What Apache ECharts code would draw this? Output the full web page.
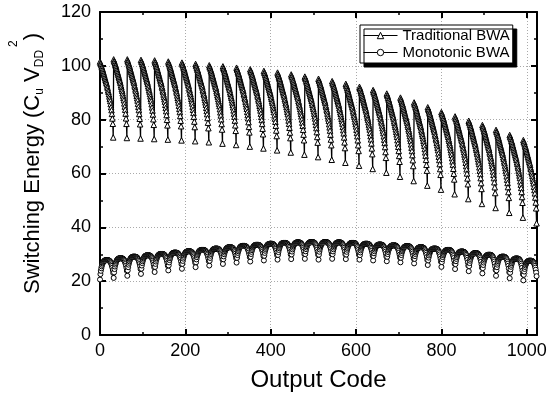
<!DOCTYPE html>
<html>
<head>
<meta charset="utf-8">
<script src="https://cdn.jsdelivr.net/npm/echarts@6/dist/echarts.min.js"></script>
<style>
html,body{margin:0;padding:0;background:#fff;}
#c{width:558px;height:402px;}
</style>
</head>
<body>
<div id="c"></div>
<script>
// ---- data ----
// Traditional BWA: 32 teeth of 32 codes; value at tooth start and tooth end
const tradTop = [101.6,102.4,102.4,102.2,102.0,101.6,101.2,100.7,100.2,99.8,99.3,98.7,98.1,97.5,96.8,96.0,
                 95.2,94.3,93.3,92.2,91.0,89.7,88.2,86.4,84.6,82.8,81.2,79.6,78.0,76.2,74.3,72.4];
const tradBottom = [73.4,73.2,73.0,72.8,72.6,72.3,72.0,71.6,71.1,70.6,70.0,69.3,68.6,67.8,67.0,66.1,
                    65.1,64.0,62.9,61.7,60.3,58.8,57.2,55.5,54.0,52.3,50.5,48.7,47.2,45.4,43.6,41.5];
// fraction of the tooth's drop reached at each code inside a tooth
const tradShape = [0,0.02,0.03,0.05,0.07,0.08,0.10,0.12,0.14,0.16,0.18,0.20,0.22,0.24,0.26,0.28,
                   0.30,0.33,0.35,0.38,0.40,0.43,0.46,0.49,0.52,0.56,0.60,0.64,0.69,0.75,0.82,1.00];
// Monotonic BWA: arches of 32 codes; dips at codes 0,32,...,1024 and peaks in the middle
const monoDip = [20.6,21.2,22.0,22.7,23.4,24.0,24.6,25.2,25.8,26.4,26.9,27.3,27.7,28.0,28.2,28.3,
                 28.0,28.3,28.2,28.0,27.7,27.4,27.0,26.6,26.0,25.3,24.5,23.7,22.9,22.0,21.1,20.3,19.6];
const monoPeak = [27.8,28.5,29.1,29.6,30.1,30.6,31.1,31.6,32.1,32.6,33.1,33.5,33.9,34.2,34.4,34.5,
                  34.5,34.4,34.2,33.9,33.6,33.3,33.0,32.6,32.1,31.6,31.0,30.4,29.8,29.1,28.4,27.6];
const monoShape = [0,0.28,0.45,0.58,0.68,0.76,0.83,0.88,0.92,0.95,0.97,0.985,0.993,1,1,1,
                   1,1,1,1,0.993,0.985,0.97,0.95,0.92,0.88,0.83,0.76,0.68,0.58,0.45,0.28];
const xTicks = [0,200,400,600,800,1000];
const yTicks = [0,20,40,60,80,100,120];
const seriesNames = ['Traditional BWA','Monotonic BWA'];

const trad = [], mono = [];
for (let g = 0; g < 32; g++) {
  for (let j = 0; j < 32; j++) {
    const code = g * 32 + j;
    trad.push([code, tradTop[g] - (tradTop[g] - tradBottom[g]) * tradShape[j]]);
    const dip = j <= 16 ? monoDip[g] : monoDip[g + 1];
    mono.push([code, dip + (monoPeak[g] - dip) * monoShape[j]]);
  }
}

const FONT = 'Liberation Sans, Arial, sans-serif';
const chart = echarts.init(document.getElementById('c'), null, {renderer: 'canvas'});
const axisCommon = {
  axisLine: {show: true, onZero: false, lineStyle: {color: '#000', width: 2}},
  axisTick: {show: true, inside: true, length: 6, lineStyle: {color: '#000', width: 2}},
  minorTick: {show: true, splitNumber: 2, length: 3, lineStyle: {color: '#000', width: 1.5}},
};
chart.setOption({
  animation: false,
  backgroundColor: '#fff',
  textStyle: {fontFamily: FONT},
  grid: {left: 100, right: 21, top: 12, bottom: 67, containLabel: false, outerBoundsMode: 'none'},
  legend: {
    data: seriesNames,
    orient: 'vertical',
    left: 360, top: 25,
    padding: [3, 3, 3, 3],
    itemWidth: 34, itemHeight: 8, itemGap: 2,
    textStyle: {fontSize: 15, color: '#000', fontFamily: FONT},
    lineStyle: {width: 1, color: '#000'},
    itemStyle: {borderWidth: 1},
    backgroundColor: '#fff',
    borderColor: '#000', borderWidth: 1, borderRadius: 0,
    shadowColor: '#000', shadowOffsetX: 4, shadowOffsetY: 4, shadowBlur: 0
  },
  xAxis: [
    Object.assign({
      type: 'value', min: 0, max: 1024, interval: 200, position: 'bottom',
      name: 'Output Code', nameLocation: 'middle', nameGap: 33,
      nameTextStyle: {fontSize: 24, color: '#000', fontFamily: FONT},
      axisLabel: {fontSize: 18, color: '#000', margin: 7, fontFamily: FONT, showMaxLabel: false,
        formatter: v => (xTicks.indexOf(v) >= 0 ? String(v) : '')},
      splitLine: {show: true, lineStyle: {color: '#aaa', width: 1, type: [1, 2]}}
    }, axisCommon),
    Object.assign({
      type: 'value', min: 0, max: 1024, interval: 200, position: 'top',
      axisLabel: {show: false}, splitLine: {show: false}
    }, axisCommon)
  ],
  yAxis: [
    Object.assign({
      type: 'value', min: 0, max: 120, interval: 20, position: 'left',
      name: '{a|Switching Energy (C}{sub|u}{a| V}{sub|DD}{sup|2}{a|)}',
      nameLocation: 'middle', nameGap: 42,
      nameTextStyle: {
        color: '#000', fontFamily: FONT, padding: [0, 0, 0, 20],
        rich: {
          a: {fontSize: 22, lineHeight: 50, color: '#000', fontFamily: FONT},
          sub: {fontSize: 12, verticalAlign: 'bottom', padding: [0, 0, 12, 0], color: '#000', fontFamily: FONT},
          sup: {fontSize: 12, verticalAlign: 'top', padding: [0, 0, 0, 3], color: '#000', fontFamily: FONT}
        }
      },
      axisLabel: {fontSize: 18, color: '#000', margin: 9, fontFamily: FONT,
        formatter: v => (yTicks.indexOf(v) >= 0 ? String(v) : '')},
      splitLine: {show: true, lineStyle: {color: '#aaa', width: 1, type: [1, 2]}}
    }, axisCommon),
    Object.assign({
      type: 'value', min: 0, max: 120, interval: 20, position: 'right',
      axisLabel: {show: false}, splitLine: {show: false}
    }, axisCommon)
  ],
  series: [
    {
      name: seriesNames[0], type: 'line', data: trad, xAxisIndex: 0, yAxisIndex: 0,
      symbol: 'triangle', symbolSize: 5.5, showAllSymbol: true,
      lineStyle: {color: '#000', width: 1.3},
      itemStyle: {color: '#fff', borderColor: '#000', borderWidth: 1},
      emphasis: {disabled: true}
    },
    {
      name: seriesNames[1], type: 'line', data: mono, xAxisIndex: 0, yAxisIndex: 0,
      symbol: 'circle', symbolSize: 5, showAllSymbol: true,
      lineStyle: {color: '#000', width: 1.3},
      itemStyle: {color: '#fff', borderColor: '#000', borderWidth: 1},
      emphasis: {disabled: true}
    }
  ]
});
</script>
</body>
</html>
